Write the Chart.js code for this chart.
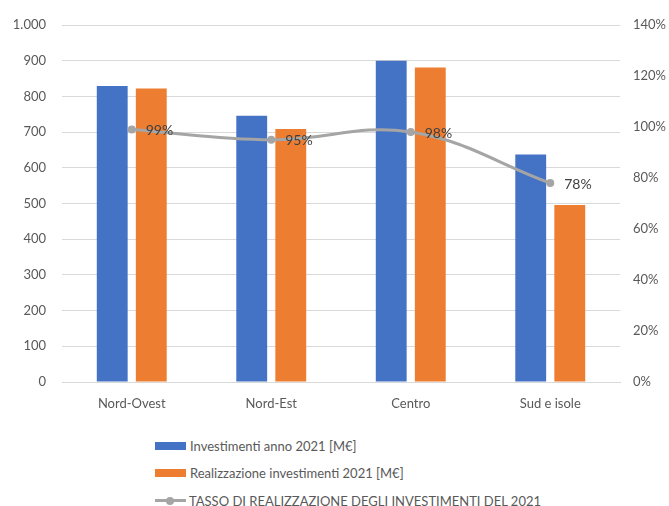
<!DOCTYPE html>
<html>
<head>
<meta charset="utf-8">
<script src="https://cdn.jsdelivr.net/npm/chart.js@4/dist/chart.umd.min.js"></script>
<style>
  html, body { margin: 0; padding: 0; background: #ffffff; }
  #wrap { position: relative; width: 669px; height: 506px; overflow: hidden; }
  #c { position: absolute; left: 0; top: 0; }
  #legend { position: absolute; left: 155px; top: 432px; font-family: Lato, "Open Sans", sans-serif; font-size: 13px; color: #595959; }
  .item { display: flex; align-items: center; height: 27.5px; }
  .sw { width: 31px; height: 8px; margin-right: 4px; }
  .ln { width: 31px; height: 3px; margin-right: 3px; position: relative; }
  .ln::after { content: ""; position: absolute; left: 11px; top: -2.5px; width: 8px; height: 8px; border-radius: 50%; background: inherit; }
</style>
</head>
<body>
<div id="wrap">
  <canvas id="c" width="669" height="420"></canvas>
  <div id="legend"></div>
</div>
<script>
const categories = ["Nord-Ovest", "Nord-Est", "Centro", "Sud e isole"];
const investimenti = [829, 746, 900, 637];
const realizzazione = [822, 709, 881, 496];
const tasso = [99, 95, 98, 78];
const seriesLabels = [
  "Investimenti anno 2021 [M€]",
  "Realizzazione investimenti 2021 [M€]",
  "TASSO DI REALIZZAZIONE DEGLI INVESTIMENTI DEL 2021"
];
const colors = ["#4472C4", "#ED7D31", "#A5A5A5"];

const FONT = "Lato, 'Open Sans', sans-serif";
const TXT = "#595959";

const pointLabels = {
  id: "pointLabels",
  afterDatasetsDraw(chart) {
    const ctx = chart.ctx;
    const meta = chart.getDatasetMeta(2);
    ctx.save();
    ctx.font = "14px " + FONT;
    ctx.fillStyle = "#404040";
    ctx.textAlign = "left";
    ctx.textBaseline = "middle";
    meta.data.forEach((pt, i) => {
      ctx.fillText(tasso[i] + "%", pt.x + 14, pt.y + 1);
    });
    ctx.restore();
  }
};

new Chart(document.getElementById("c"), {
  data: {
    labels: categories,
    datasets: [
      { type: "bar", label: seriesLabels[0], data: investimenti, backgroundColor: colors[0], yAxisID: "y", order: 1,
        categoryPercentage: 0.56, barPercentage: 0.79 },
      { type: "bar", label: seriesLabels[1], data: realizzazione, backgroundColor: colors[1], yAxisID: "y", order: 1,
        categoryPercentage: 0.56, barPercentage: 0.79 },
      { type: "line", label: seriesLabels[2], data: tasso, borderColor: colors[2], backgroundColor: colors[2],
        borderWidth: 3, pointRadius: 4, pointBackgroundColor: colors[2], pointBorderWidth: 0,
        tension: 0.4, yAxisID: "y1", order: 0 }
    ]
  },
  options: {
    responsive: false,
    animation: false,
    devicePixelRatio: 1,
    layout: { padding: { top: 25, bottom: 8, left: 0, right: 0 } },
    plugins: { legend: { display: false }, tooltip: { enabled: false } },
    scales: {
      x: {
        grid: { display: false, drawTicks: false },
        border: { display: true, color: "#d9d9d9", width: 1 },
        ticks: { color: TXT, font: { family: FONT, size: 13 }, padding: 14 },
        afterFit(s) { s.height = 30; }
      },
      y: {
        position: "left",
        min: 0, max: 1000,
        grid: { color: "#d9d9d9", drawTicks: false },
        border: { display: false },
        ticks: {
          stepSize: 100, padding: 16, color: TXT, font: { family: FONT, size: 13 },
          callback: v => v.toLocaleString("it-IT").replace(/\s/g, ".").replace(/^1000$/, "1.000")
        },
        afterFit(s) { s.width = 62; }
      },
      y1: {
        position: "right",
        min: 0, max: 140,
        grid: { display: false, drawTicks: false },
        border: { display: false },
        ticks: { stepSize: 20, padding: 13, color: TXT, font: { family: FONT, size: 13 }, callback: v => v + "%" },
        afterFit(s) { s.width = 49; }
      }
    }
  },
  plugins: [pointLabels]
});

const lg = document.getElementById("legend");
seriesLabels.forEach((lab, i) => {
  const row = document.createElement("div");
  row.className = "item";
  const sw = document.createElement("span");
  sw.className = i === 2 ? "ln" : "sw";
  sw.style.background = colors[i];
  const t = document.createElement("span");
  t.textContent = lab;
  row.appendChild(sw); row.appendChild(t);
  lg.appendChild(row);
});
</script>
</body>
</html>
